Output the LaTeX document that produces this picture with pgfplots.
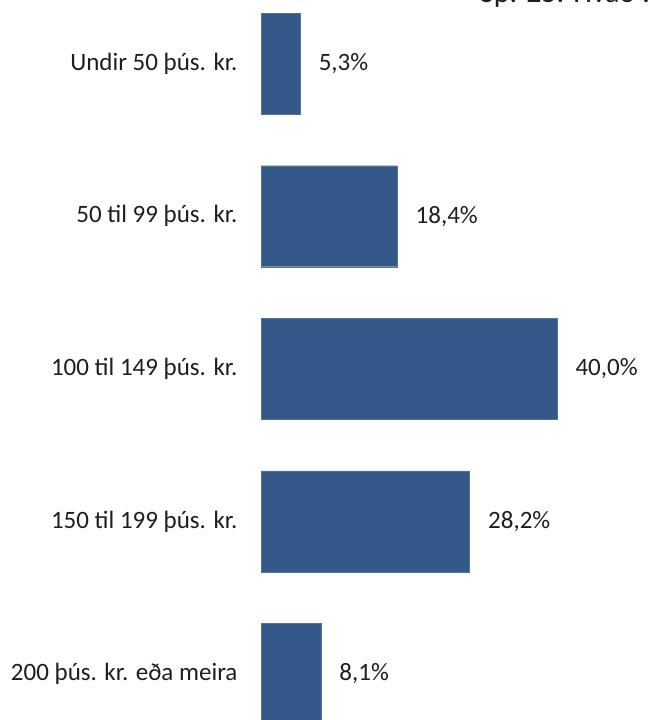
\documentclass[border=0pt]{standalone}
\usepackage{pgfplots}
\pgfplotsset{compat=1.18}
\usepackage{fontspec}
\setmainfont{Carlito}
\definecolor{barblue}{RGB}{52,88,138}
\definecolor{txt}{RGB}{30,30,30}

\begin{document}
\begin{tikzpicture}[x=1pt,y=1pt]
  \begin{axis}[
      at={(261pt,-30.3pt)}, anchor=south west,
      scale only axis, width=370pt, height=763pt,
      xbar, bar width=101pt,
      xmin=0, xmax=50,
      ymin=-0.5, ymax=4.5, y dir=reverse,
      axis line style={draw=none},
      xtick=\empty,
      ytick={0,1,2,3,4},
      major tick length=0pt,
      yticklabels={Undir 50 þús. kr., 50 til 99 þús. kr., 100 til 149 þús. kr., 150 til 199 þús. kr., 200 þús. kr. eða meira},
      yticklabel style={font=\fontsize{25}{29}\selectfont, text=txt, xshift=-20pt},
      point meta=explicit symbolic,
      nodes near coords,
      nodes near coords style={font=\fontsize{25}{29}\selectfont, text=txt, anchor=west, xshift=15pt},
      clip=false,
    ]
    \addplot[fill=barblue, draw=barblue!85!white] coordinates {
      (5.3,0) [5,3\%]
      (18.4,1) [18,4\%]
      (40.0,2) [40,0\%]
      (28.2,3) [28,2\%]
      (8.1,4) [8,1\%]
    };
  \end{axis}
  \node[anchor=base west, inner sep=0pt, font=\fontsize{30}{34}\selectfont, text=txt] at (480,717) {Sp. 25. Hvað :};
  \pgfresetboundingbox
  \path[use as bounding box] (0,0) rectangle (649,720);
\end{tikzpicture}
\end{document}
